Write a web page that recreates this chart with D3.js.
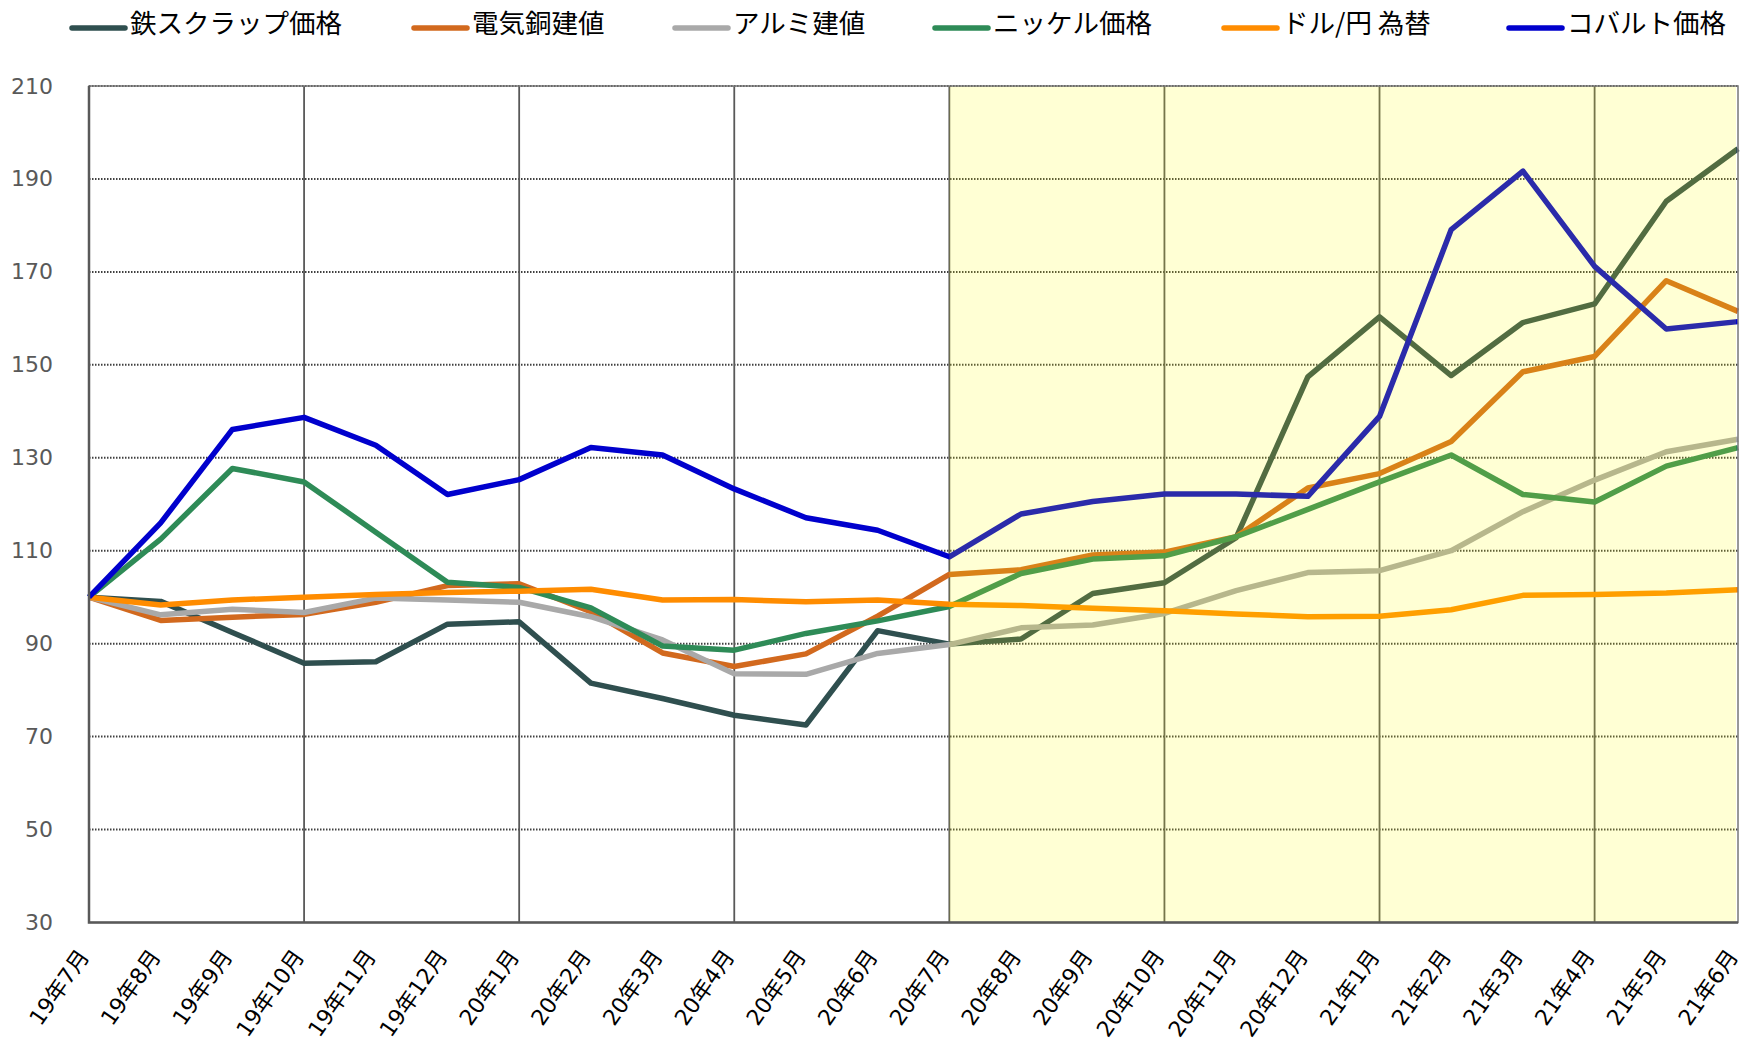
<!DOCTYPE html>
<html>
<head>
<meta charset="utf-8">
<script src="https://cdn.jsdelivr.net/npm/d3@7"></script>
<style>
  body { margin: 0; background: #fff; }
  svg { display: block; }
</style>
</head>
<body>
<svg id="chart" width="1745" height="1047"></svg>
<script>
// months on the x axis
const months = ["19年7月", "19年8月", "19年9月", "19年10月", "19年11月", "19年12月",
  "20年1月", "20年2月", "20年3月", "20年4月", "20年5月", "20年6月",
  "20年7月", "20年8月", "20年9月", "20年10月", "20年11月", "20年12月",
  "21年1月", "21年2月", "21年3月", "21年4月", "21年5月", "21年6月"];

// index values (19年7月 = 100)
const ironScrap = [100, 99.1, 92.4, 85.8, 86.1, 94.2, 94.7, 81.5, 78.2, 74.6, 72.5, 92.8,
  89.9, 91.0, 100.8, 103.1, 112.8, 147.4, 160.3, 147.7, 159.1, 163.1, 185.2, 196.5];
const copper = [100, 95.0, 95.7, 96.3, 98.9, 102.5, 102.9, 96.9, 88.0, 85.1, 87.8, 95.9,
  104.9, 105.9, 109.1, 109.7, 113.0, 123.5, 126.6, 133.5, 148.5, 151.8, 168.1, 161.5];
const aluminium = [100, 96.2, 97.4, 96.7, 99.8, 99.4, 98.9, 95.8, 90.8, 83.5, 83.4, 87.9,
  89.8, 93.4, 94.0, 96.5, 101.4, 105.3, 105.7, 110.0, 118.4, 125.2, 131.3, 134.0];
const nickel = [100, 112.5, 127.7, 124.8, 114.0, 103.2, 102.1, 97.7, 89.5, 88.6, 92.2, 94.9,
  98.0, 105.1, 108.2, 108.9, 113.0, 118.9, 124.8, 130.6, 122.1, 120.5, 128.2, 132.2];
const usdJpy = [100, 98.3, 99.4, 100.0, 100.6, 101.0, 101.3, 101.7, 99.4, 99.5, 99.0, 99.4,
  98.5, 98.2, 97.6, 97.1, 96.4, 95.8, 95.9, 97.3, 100.4, 100.6, 100.9, 101.6];
const cobalt = [100, 116.0, 136.1, 138.7, 132.7, 122.1, 125.3, 132.2, 130.6, 123.3, 117.1, 114.4,
  108.7, 117.9, 120.6, 122.2, 122.2, 121.7, 138.9, 179.1, 191.7, 171.2, 157.7, 159.3];

const seriesNames = ["鉄スクラップ価格", "電気銅建値", "アルミ建値", "ニッケル価格", "ドル/円 為替", "コバルト価格"];
const seriesValues = [ironScrap, copper, aluminium, nickel, usdJpy, cobalt];
const seriesColors = ["#2f4f4f", "#d2691e", "#a9a9a9", "#2e8b57", "#ff8c00", "#0000cd"];

const yTicks = [30, 50, 70, 90, 110, 130, 150, 170, 190, 210];
const highlightFrom = "20年7月"; // shaded period starts here

// layout
const margin = { left: 89, right: 7, top: 86, bottom: 124.5 };
const W = 1745, H = 1047;
const pw = W - margin.left - margin.right;
const ph = H - margin.top - margin.bottom;

const svg = d3.select("#chart");
const g = svg.append("g").attr("transform", `translate(${margin.left},${margin.top})`);

const x = d3.scalePoint().domain(months).range([0, pw]);
const y = d3.scaleLinear().domain([30, 210]).range([ph, 0]);

// horizontal dotted grid
g.append("g")
  .selectAll("line")
  .data(yTicks.filter(d => d > 30))
  .join("line")
  .attr("x1", 0).attr("x2", pw)
  .attr("y1", d => y(d)).attr("y2", d => y(d))
  .attr("stroke", "#404040")
  .attr("stroke-width", 2)
  .attr("stroke-dasharray", "1.5 1.5");

// vertical lines every 3 months
g.append("g")
  .selectAll("line")
  .data(months.filter((m, i) => i % 3 === 0 && i > 0 && i < months.length - 1))
  .join("line")
  .attr("x1", d => x(d)).attr("x2", d => x(d))
  .attr("y1", 0).attr("y2", ph)
  .attr("stroke", "#595959")
  .attr("stroke-width", 1.8);

// series lines
const line = d3.line()
  .x((d, i) => x(months[i]))
  .y(d => y(d));

g.append("g")
  .selectAll("path")
  .data(seriesValues)
  .join("path")
  .attr("d", d => line(d))
  .attr("fill", "none")
  .attr("stroke", (d, i) => seriesColors[i])
  .attr("stroke-width", 5.5)
  .attr("stroke-linejoin", "round");

// translucent yellow band over the later period
g.append("rect")
  .attr("x", x(highlightFrom))
  .attr("y", 0)
  .attr("width", x(months[months.length - 1]) - x(highlightFrom) - 2)
  .attr("height", ph)
  .attr("fill", "#ffff00")
  .attr("fill-opacity", 0.17);

// plot frame
g.append("rect")
  .attr("x", 0).attr("y", 0)
  .attr("width", pw).attr("height", ph)
  .attr("fill", "none")
  .attr("stroke", "#777")
  .attr("stroke-width", 1.5);
g.append("path")
  .attr("d", `M0,0V${ph}H${pw}`)
  .attr("fill", "none")
  .attr("stroke", "#595959")
  .attr("stroke-width", 2.5);

// y axis labels
const yAxis = d3.axisLeft(y).tickValues(yTicks).tickSize(0).tickPadding(36);
g.append("g").call(yAxis)
  .call(s => s.select(".domain").remove())
  .selectAll("text")
  .attr("font-family", "'DejaVu Sans', Verdana, sans-serif")
  .attr("font-size", 22)
  .attr("fill", "#595959");

// x axis labels, rotated
g.append("g")
  .selectAll("text")
  .data(months)
  .join("text")
  .attr("transform", d => `translate(${x(d) + 1},${ph + 34}) rotate(-55)`)
  .attr("text-anchor", "end")
  .attr("font-family", "'DejaVu Sans', 'Noto Sans CJK JP', sans-serif")
  .attr("font-size", 22)
  .attr("fill", "#000")
  .text(d => d);

// legend
const legendX = [72, 414, 675, 935, 1224, 1509];
const legend = svg.append("g")
  .selectAll("g")
  .data(seriesNames)
  .join("g")
  .attr("transform", (d, i) => `translate(${legendX[i]},0)`);
legend.append("line")
  .attr("x1", 0).attr("x2", 53)
  .attr("y1", 28).attr("y2", 28)
  .attr("stroke", (d, i) => seriesColors[i])
  .attr("stroke-width", 5.5)
  .attr("stroke-linecap", "round");
legend.append("text")
  .attr("x", 58)
  .attr("y", 33)
  .attr("font-family", "'Noto Sans CJK JP', sans-serif")
  .attr("font-size", 26.5)
  .attr("fill", "#000")
  .text(d => d);
</script>
</body>
</html>
